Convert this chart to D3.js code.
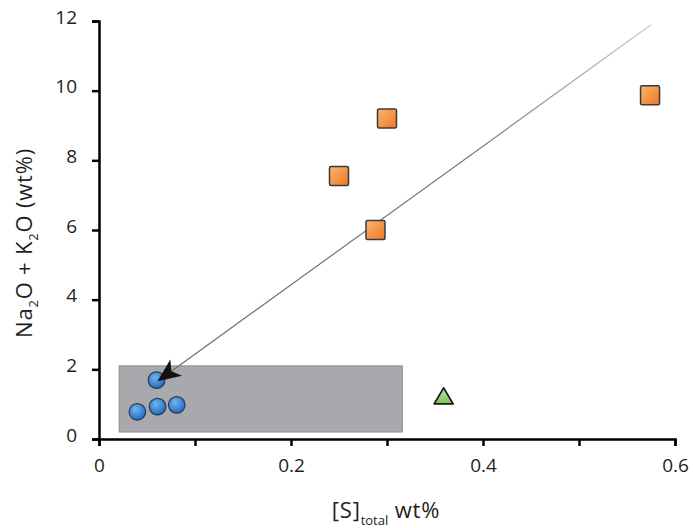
<!DOCTYPE html>
<html><head><meta charset="utf-8">
<script src="https://cdn.jsdelivr.net/npm/d3@7"></script>
<style>body{margin:0;background:#fff}svg{display:block}text{font-family:"Open Sans",sans-serif;fill:#231f20}</style>
</head><body>
<script>
// Data
const squaresX = [0.25, 0.30, 0.288, 0.574];
const squaresY = [7.55, 9.2, 6.0, 9.87];
const circlesX = [0.060, 0.040, 0.061, 0.081];
const circlesY = [1.69, 0.78, 0.93, 0.98];
const triangleX = [0.359];
const triangleY = [1.21];
const boxX = [0.021, 0.316];
const boxY = [0.2, 2.1];
const trendFrom = [0.575, 11.89];
const trendTo = [0.061, 1.66];
const xTicks = [0, 0.1, 0.2, 0.3, 0.4, 0.5, 0.6];
const xTickLabels = ["0", "", "0.2", "", "0.4", "", "0.6"];
const yTicks = [0, 2, 4, 6, 8, 10, 12];

const W = 693, H = 528;
const svg = d3.select("body").append("svg").attr("width", W).attr("height", H);
const x = d3.scaleLinear().domain([0, 0.6]).range([99, 675]);
const y = d3.scaleLinear().domain([0, 12]).range([439, 21]);

const defs = svg.append("defs");
const og = defs.append("linearGradient").attr("id", "og").attr("x1", "0").attr("y1", "0").attr("x2", "1").attr("y2", "1");
og.append("stop").attr("offset", "0").attr("stop-color", "#fbb56e");
og.append("stop").attr("offset", "1").attr("stop-color", "#ec7a24");
const bg = defs.append("radialGradient").attr("id", "bg").attr("cx", "0.4").attr("cy", "0.35").attr("r", "0.7");
bg.append("stop").attr("offset", "0").attr("stop-color", "#6fb6f0");
bg.append("stop").attr("offset", "1").attr("stop-color", "#1f64c0");
const gg = defs.append("linearGradient").attr("id", "gg").attr("x1", "0").attr("y1", "0").attr("x2", "0").attr("y2", "1");
gg.append("stop").attr("offset", "0").attr("stop-color", "#b7e39a");
gg.append("stop").attr("offset", "1").attr("stop-color", "#7cc55a");
const lg = defs.append("linearGradient").attr("id", "lg").attr("gradientUnits", "userSpaceOnUse")
  .attr("x1", x(trendFrom[0])).attr("y1", y(trendFrom[1])).attr("x2", x(trendTo[0])).attr("y2", y(trendTo[1]));
lg.append("stop").attr("offset", "0").attr("stop-color", "#c8c8c8");
lg.append("stop").attr("offset", "0.35").attr("stop-color", "#7a7a7a");
lg.append("stop").attr("offset", "1").attr("stop-color", "#6a6a6a");

// gray box
svg.append("rect").attr("x", x(boxX[0])).attr("y", y(boxY[1]))
  .attr("width", x(boxX[1]) - x(boxX[0])).attr("height", y(boxY[0]) - y(boxY[1]))
  .attr("fill", "#a7a9ac").attr("stroke", "#8d8f92").attr("stroke-width", 1);

// axes
const xAxis = d3.axisBottom(x).tickValues(xTicks).tickSize(7).tickFormat((d, i) => xTickLabels[i]);
const gx = svg.append("g").attr("transform", "translate(0,439)").call(xAxis);
const yAxis = d3.axisLeft(y).tickValues(yTicks).tickSize(7).tickFormat(d3.format("d"));
const gy = svg.append("g").attr("transform", "translate(99,0)").call(yAxis);
[gx, gy].forEach(g => {
  g.select(".domain").attr("stroke", "#000").attr("stroke-width", 2.5);
  g.selectAll(".tick line").attr("stroke", "#000").attr("stroke-width", 2.5);
  g.selectAll("text").style("font-size", "19px").attr("fill", "#231f20").style("font-family", '"Open Sans",sans-serif');
});
gx.selectAll(".tick text").attr("y", 10).attr("dy", "1.2em");
gy.selectAll(".tick text").attr("x", -22).attr("dy", "0.12em");

// trend line
const x1 = x(trendFrom[0]), y1 = y(trendFrom[1]), x2 = x(trendTo[0]), y2 = y(trendTo[1]);
svg.append("line").attr("x1", x1).attr("y1", y1).attr("x2", x2 + 10).attr("y2", y2 - 10 * (y1 - y2) / (x2 - x1))
  .attr("stroke", "url(#lg)").attr("stroke-width", 1.2);

// circles
svg.selectAll("circle.c").data(circlesX).enter().append("circle")
  .attr("cx", (d) => x(d)).attr("cy", (d, i) => y(circlesY[i])).attr("r", 8.3)
  .attr("fill", "url(#bg)").attr("stroke", "#2a3a55").attr("stroke-width", 1.2);

// arrow head at the end of the trend line
const ang = Math.atan2(y2 - y1, x2 - x1) * 180 / Math.PI;
svg.append("path").attr("d", "M0,0 L-23,-10 L-17,0 L-23,10 Z")
  .attr("transform", `translate(${x2},${y2}) rotate(${ang})`).attr("fill", "#111");

// squares
const s = 19;
svg.selectAll("rect.sq").data(squaresX).enter().append("rect")
  .attr("x", (d) => x(d) - s / 2).attr("y", (d, i) => y(squaresY[i]) - s / 2)
  .attr("width", s).attr("height", s).attr("rx", 1.5)
  .attr("fill", "url(#og)").attr("stroke", "#3a3a3a").attr("stroke-width", 1.5);

// triangle
svg.selectAll("path.tri").data(triangleX).enter().append("path")
  .attr("d", (d, i) => {
    const cx = x(d), cy = y(triangleY[i]);
    return `M${cx},${cy - 9} L${cx + 9.5},${cy + 7} L${cx - 9.5},${cy + 7} Z`;
  })
  .attr("fill", "url(#gg)").attr("stroke", "#1a1a1a").attr("stroke-width", 1.8).attr("stroke-linejoin", "round");

// axis titles
const xt = svg.append("text").attr("x", 386).attr("y", 518).attr("text-anchor", "middle")
  .style("font-size", "22px").style("letter-spacing", "0.8px");
xt.append("tspan").text("[S]");
xt.append("tspan").attr("dy", 7).style("font-size", "13px").style("letter-spacing", "0px").text("total");
xt.append("tspan").attr("dy", -7).text(" wt%");

const yt = svg.append("text").attr("transform", "translate(32,243) rotate(-90)").attr("text-anchor", "middle")
  .style("font-size", "22px").style("letter-spacing", "0.8px");
yt.append("tspan").text("Na");
yt.append("tspan").attr("dy", 6).style("font-size", "13px").text("2");
yt.append("tspan").attr("dy", -6).text("O + K");
yt.append("tspan").attr("dy", 6).style("font-size", "13px").text("2");
yt.append("tspan").attr("dy", -6).text("O (wt%)");
</script>
</body></html>
